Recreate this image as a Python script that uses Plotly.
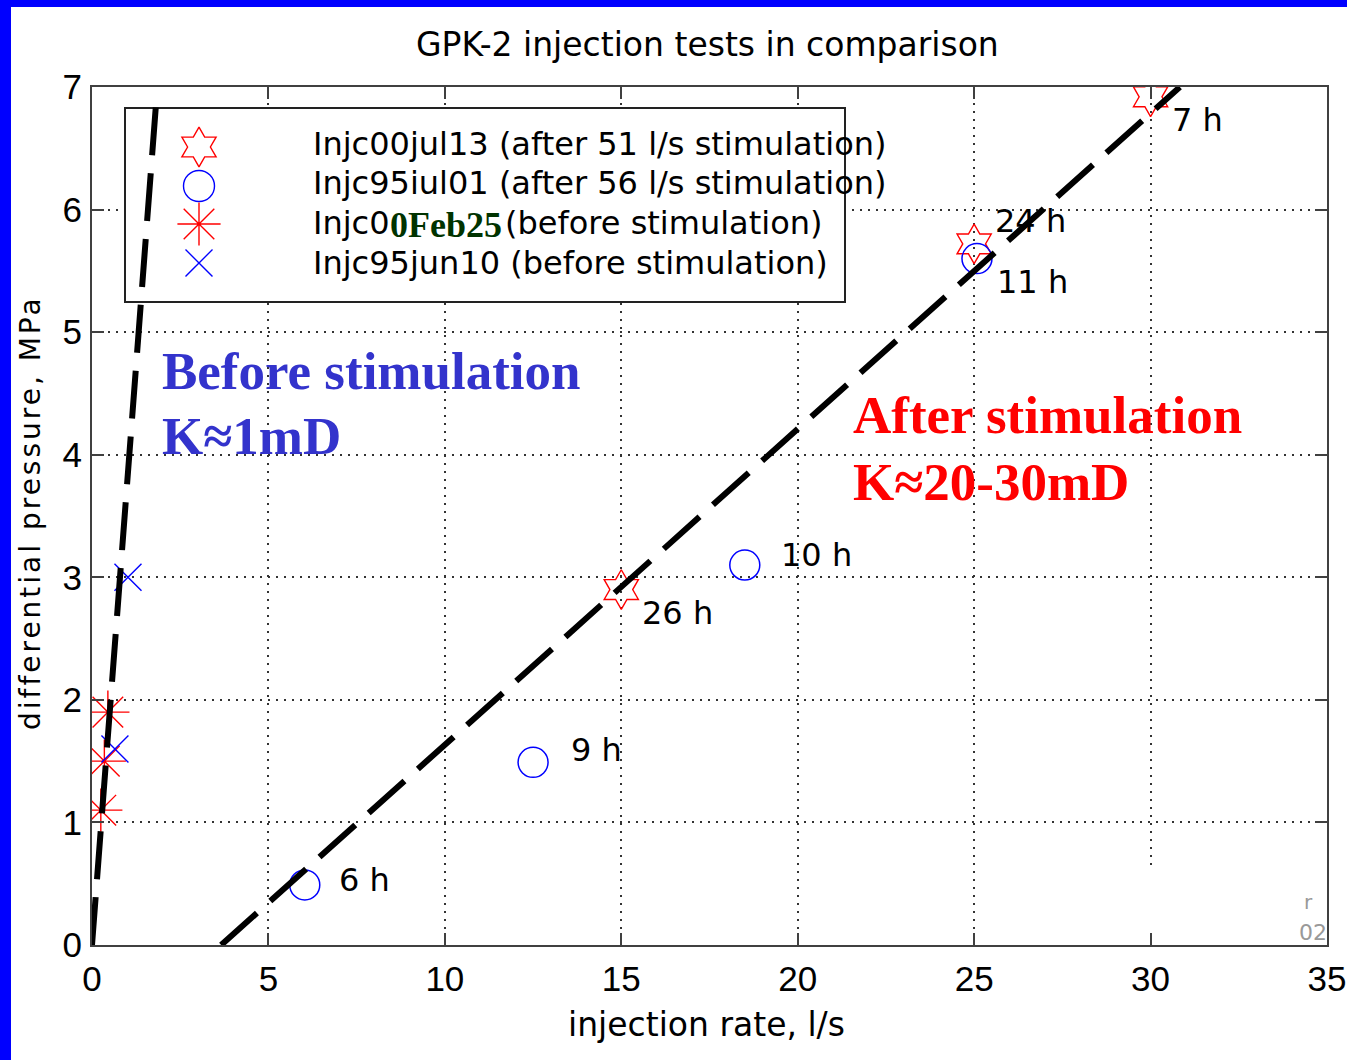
import plotly.graph_objects as go

# ---------------- data ----------------
after00_rate = [15.0, 25.0, 30.0]           # Injc00jul13 (after 51 l/s stimulation)
after00_dp = [2.9, 5.72, 6.92]
after95_rate = [6.03, 12.5, 18.5, 25.08]     # Injc95jul01 (after 56 l/s stimulation)
after95_dp = [0.49, 1.49, 3.1, 5.6]
before00_rate = [0.25, 0.35, 0.45]           # Injc00Feb25 (before stimulation)
before00_dp = [1.1, 1.5, 1.9]
before95_rate = [0.65, 1.02]                 # Injc95jun10 (before stimulation)
before95_dp = [1.6, 3.0]

fit_before_rate = [0.0, 1.84]
fit_before_dp = [0.0, 6.96]
fit_after_rate = [3.66, 30.83]
fit_after_dp = [0.0, 7.0]

duration_labels = ["6 h", "9 h", "10 h", "26 h", "24 h", "11 h", "7 h"]
duration_rate = [6.94, 13.52, 19.47, 15.53, 25.53, 25.59, 30.55]
duration_dp = [0.53, 1.59, 3.18, 2.71, 5.91, 5.41, 6.73]

x_ticks = [0, 5, 10, 15, 20, 25, 30, 35]
y_ticks = [0, 1, 2, 3, 4, 5, 6, 7]

# ---------------- layout constants (pixels) ----------------
W, H = 1347, 1060
L, R, T, B = 92, 1327, 87, 945
X_MAX, Y_MAX = 35.0, 7.0


def dx(p):
    return X_MAX * (p - L) / (R - L)


def dy(p):
    return Y_MAX * (B - p) / (B - T)


def px(p):
    return (p - L) / (R - L)


def py(p):
    return (B - p) / (B - T)


RED = "#FF0000"
BLUE = "#0000FF"
SANS = "DejaVu Sans"

fig = go.Figure()

# legend symbols
leg_sym_x = 199
leg_rows_sym = [147, 186, 224, 263]
leg_symbols = ["hexagram-open", "circle-open", "asterisk-open", "x-thin-open"]
leg_colors = [RED, BLUE, RED, BLUE]
leg_sizes = [30, 31, 36, 27]
for sym, col, yy, sz in zip(leg_symbols, leg_colors, leg_rows_sym, leg_sizes):
    fig.add_trace(go.Scatter(
        x=[dx(leg_sym_x)], y=[dy(yy)], mode="markers", showlegend=False, hoverinfo="skip",
        marker=dict(symbol=sym, size=sz, color=col, line=dict(color=col, width=1.4))))

# data markers
fig.add_trace(go.Scatter(x=after00_rate, y=after00_dp, mode="markers", showlegend=False,
                         marker=dict(symbol="hexagram-open", size=30, color=RED,
                                     line=dict(color=RED, width=1.4))))
fig.add_trace(go.Scatter(x=after95_rate, y=after95_dp, mode="markers", showlegend=False,
                         marker=dict(symbol="circle-open", size=30, color=BLUE,
                                     line=dict(color=BLUE, width=1.5))))
fig.add_trace(go.Scatter(x=before00_rate, y=before00_dp, mode="markers", showlegend=False,
                         marker=dict(symbol="asterisk-open", size=36, color=RED,
                                     line=dict(color=RED, width=1.4))))
fig.add_trace(go.Scatter(x=before95_rate, y=before95_dp, mode="markers", showlegend=False,
                         marker=dict(symbol="x-thin-open", size=27, color=BLUE,
                                     line=dict(color=BLUE, width=1.4))))

# dashed fit lines
for xs, ys in [(fit_before_rate, fit_before_dp), (fit_after_rate, fit_after_dp)]:
    fig.add_trace(go.Scatter(x=xs, y=ys, mode="lines", showlegend=False, hoverinfo="skip",
                             line=dict(color="black", width=6, dash="48px,18px")))

shapes = []
# legend box (covers gridlines, under traces)
shapes.append(dict(type="rect", xref="x", yref="y", layer="between",
                   x0=dx(125), x1=dx(845), y0=dy(302), y1=dy(108),
                   fillcolor="white", line=dict(color="#222", width=2)))
# white patch bottom right
shapes.append(dict(type="rect", xref="x", yref="y", layer="between",
                   x0=dx(1145), x1=dx(1305), y0=dy(942), y1=dy(868),
                   fillcolor="white", line=dict(width=0)))
# blue frame (left & top)
shapes.append(dict(type="rect", xref="paper", yref="paper", layer="above",
                   x0=px(0), x1=px(11), y0=py(H), y1=py(0),
                   fillcolor="#0000FF", line=dict(width=0)))
shapes.append(dict(type="rect", xref="paper", yref="paper", layer="above",
                   x0=px(0), x1=px(W), y0=py(7), y1=py(0),
                   fillcolor="#0000FF", line=dict(width=0)))

ann = []
# title & axis titles
ann.append(dict(text="GPK-2 injection tests in comparison", xref="paper", yref="paper",
                x=px(707), y=py(45), xanchor="center", yanchor="middle", showarrow=False,
                font=dict(family=SANS, size=33, color="black")))
ann.append(dict(text="injection rate, l/s", xref="paper", yref="paper",
                x=px(706), y=py(1024), xanchor="center", yanchor="middle", showarrow=False,
                font=dict(family=SANS, size=33, color="black")))
ann.append(dict(text="<span style='letter-spacing:3px'>differential pressure, MPa</span>",
                xref="paper", yref="paper", textangle=-90,
                x=px(30), y=py(513), xanchor="center", yanchor="middle", showarrow=False,
                font=dict(family=SANS, size=28, color="black")))

# legend texts
leg_text_x = 311
leg_rows_text = [144, 183, 223, 263]
ann.append(dict(text="Injc00jul13 (after 51 l/s stimulation)", x=dx(leg_text_x), y=dy(leg_rows_text[0]),
                xanchor="left", yanchor="middle", showarrow=False, font=dict(family=SANS, size=32, color="black")))
ann.append(dict(text="Injc95iul01 (after 56 l/s stimulation)", x=dx(leg_text_x), y=dy(leg_rows_text[1]),
                xanchor="left", yanchor="middle", showarrow=False, font=dict(family=SANS, size=32, color="black")))
ann.append(dict(text="Injc0", x=dx(leg_text_x), y=dy(leg_rows_text[2]),
                xanchor="left", yanchor="middle", showarrow=False, font=dict(family=SANS, size=32, color="black")))
ann.append(dict(text="0Feb25", x=dx(389), y=dy(leg_rows_text[2] + 2), borderpad=0,
                xanchor="left", yanchor="middle", showarrow=False,
                font=dict(family="Liberation Serif", size=36, color="#003300", weight="bold")))
ann.append(dict(text="(before stimulation)", x=dx(503), y=dy(leg_rows_text[2]),
                xanchor="left", yanchor="middle", showarrow=False, font=dict(family=SANS, size=32, color="black")))
ann.append(dict(text="Injc95jun10 (before stimulation)", x=dx(leg_text_x), y=dy(leg_rows_text[3]),
                xanchor="left", yanchor="middle", showarrow=False, font=dict(family=SANS, size=32, color="black")))

# duration labels
for t, xv, yv in zip(duration_labels, duration_rate, duration_dp):
    ann.append(dict(text=t, x=xv, y=yv, xanchor="left", yanchor="middle", showarrow=False,
                    font=dict(family=SANS, size=32, color="black")))

# big serif annotations
SERIF = "Liberation Serif"
ann.append(dict(text="<b>Before stimulation</b>", x=dx(160), y=dy(371), xanchor="left", yanchor="middle",
                showarrow=False, font=dict(family=SERIF, size=53, color="#3333CC")))
ann.append(dict(text="<b>K≈1mD</b>", x=dx(160), y=dy(436), xanchor="left", yanchor="middle",
                showarrow=False, font=dict(family=SERIF, size=53, color="#3333CC")))
ann.append(dict(text="<b>After stimulation</b>", x=dx(851), y=dy(415), xanchor="left", yanchor="middle",
                showarrow=False, font=dict(family=SERIF, size=53, color=RED)))
ann.append(dict(text="<b>K≈20-30mD</b>", x=dx(851), y=dy(482), xanchor="left", yanchor="middle",
                showarrow=False, font=dict(family=SERIF, size=53, color=RED)))

# faint fragments bottom right
ann.append(dict(text="r", x=dx(1308), y=dy(902), xanchor="center", yanchor="middle", showarrow=False,
                font=dict(family=SANS, size=20, color="#999")))
ann.append(dict(text="02", x=dx(1313), y=dy(932), xanchor="center", yanchor="middle", showarrow=False,
                font=dict(family=SANS, size=22, color="#999")))

axis_common = dict(
    showline=True, linecolor="#404040", linewidth=2, mirror="ticks",
    ticks="inside", ticklen=12, tickwidth=1.5, tickcolor="#404040",
    showgrid=True, gridcolor="#333", gridwidth=1.5, griddash="2px,6px",
    zeroline=False, automargin=False,
    tickfont=dict(family="Liberation Sans", size=35, color="black"),
)

fig.update_layout(
    width=W, height=H, autosize=False,
    margin=dict(l=L, r=W - R, t=T, b=H - B, pad=0, autoexpand=False),
    paper_bgcolor="white", plot_bgcolor="white",
    showlegend=False,
    xaxis=dict(range=[0, X_MAX], tickvals=x_ticks, ticktext=[str(v) for v in x_ticks],
               ticklabelstandoff=2, **axis_common),
    yaxis=dict(range=[0, Y_MAX], tickvals=y_ticks, ticktext=[str(v) for v in y_ticks],
               ticklabelstandoff=1, **axis_common),
    shapes=shapes, annotations=ann,
)

fig.write_html("out.html")
